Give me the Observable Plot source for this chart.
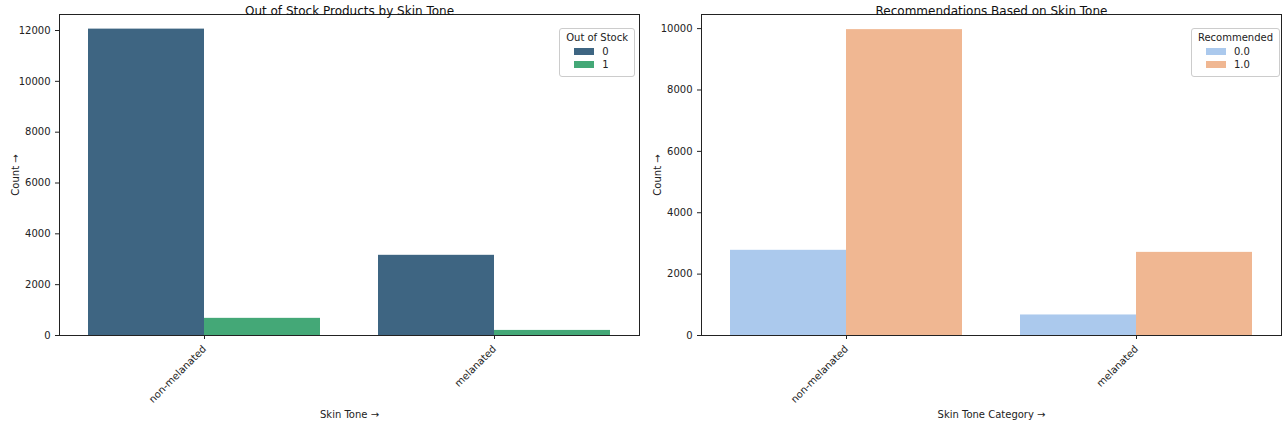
<!DOCTYPE html>
<html>
<head>
<meta charset="utf-8">
<script src="https://cdn.jsdelivr.net/npm/d3@7"></script>
<script src="https://cdn.jsdelivr.net/npm/@observablehq/plot@0.6"></script>
<style>
  body { margin: 0; background: #fff; font-family: "DejaVu Sans", sans-serif; }
  #wrap { display: flex; width: 1288px; }
  .panel { position: relative; width: 644px; height: 424px; }
  .legend { position: absolute; top: 28px; background: #fff; border: 1px solid #ccc; border-radius: 3px;
            font-size: 10px; padding: 3px 6px 4px 6px; color: #222; }
  .legend .t { text-align: center; margin-bottom: 3px; }
  .legend .row { display: flex; align-items: center; margin: 2px 0 2px 8px; }
  .legend .sw { width: 20px; height: 7px; margin-right: 8px; }
</style>
</head>
<body>
<div id="wrap">
  <div class="panel" id="p1"></div>
  <div class="panel" id="p2"></div>
</div>
<script>
const skinTones = ["non-melanated", "melanated"];

const stockKeys = ["0", "1"];
const stockCounts = [[12055, 675], [3155, 200]];
const stockColors = ["#3e6582", "#44a877"];

const recKeys = ["0.0", "1.0"];
const recCounts = [[2776, 9967], [669, 2709]];
const recColors = ["#abc9ed", "#f0b792"];

function rows(keys, counts) {
  const out = [];
  skinTones.forEach((s, i) => keys.forEach((k, j) => {
    out.push({i, j, key: k, count: counts[i][j], x1: i - 0.4 + j * 0.4, x2: i + j * 0.4});
  }));
  return out;
}

function chart(el, o) {
  const data = rows(o.keys, o.counts);
  const plot = Plot.plot({
    width: 644, height: 424,
    marginLeft: o.ml, marginRight: o.mr, marginTop: 14, marginBottom: 89,
    style: {fontFamily: "DejaVu Sans, sans-serif", fontSize: "10px", color: "#222"},
    x: {domain: [-0.5, 1.5], ticks: [0, 1], tickFormat: d => skinTones[d], tickRotate: -45,
        label: o.xlabel, labelAnchor: "center", labelOffset: 82, tickSize: 4},
    y: {domain: o.ydom, ticks: o.yticks, label: "Count", labelAnchor: "center", labelOffset: 48,
        tickSize: 4, tickFormat: d => String(d), nice: false},
    color: {domain: o.keys, range: o.colors},
    marks: [
      Plot.rectY(data, {x1: "x1", x2: "x2", y: "count", fill: "key"}),
      Plot.frame({stroke: "#222"}),
      Plot.text([o.title], {frameAnchor: "top", dy: -8, fontSize: 12, fill: "#111"})
    ]
  });
  const panel = document.getElementById(el);
  panel.append(plot);
  const lg = document.createElement("div");
  lg.className = "legend";
  lg.style.right = o.lr + "px";
  lg.innerHTML = `<div class="t">${o.ltitle}</div>` + o.keys.map((k, j) =>
    `<div class="row"><span class="sw" style="background:${o.colors[j]}"></span>${k}</div>`).join("");
  panel.append(lg);
}

chart("p1", {keys: stockKeys, counts: stockCounts, colors: stockColors, ml: 59, mr: 5,
  ydom: [0, 12630], yticks: [0, 2000, 4000, 6000, 8000, 10000, 12000],
  xlabel: "Skin Tone", title: "Out of Stock Products by Skin Tone", ltitle: "Out of Stock", lr: 9});
chart("p2", {keys: recKeys, counts: recCounts, colors: recColors, ml: 57, mr: 7,
  ydom: [0, 10460], yticks: [0, 2000, 4000, 6000, 8000, 10000],
  xlabel: "Skin Tone Category", title: "Recommendations Based on Skin Tone", ltitle: "Recommended", lr: 8});
</script>
</body>
</html>
